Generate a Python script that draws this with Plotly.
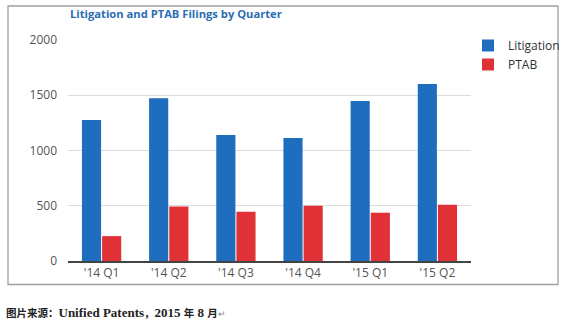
import plotly.graph_objects as go

categories = ["'14 Q1", "'14 Q2", "'14 Q3", "'14 Q4", "'15 Q1", "'15 Q2"]
litigation = [1275, 1472, 1140, 1113, 1449, 1602]
ptab = [225, 494, 446, 500, 437, 509]

W, H = 569, 323
L, R, T, B = 68, 471, 40, 261
pw, ph = R - L, B - T

def px(x):
    return (x - L) / pw

def py(y):
    return (B - y) / ph

fig = go.Figure()
fig.add_trace(go.Bar(name="Litigation", x=categories, y=litigation, marker_color="#1f6dbf", marker_line_width=0))
fig.add_trace(go.Bar(name="PTAB", x=categories, y=ptab, marker_color="#e03236", marker_line_width=0))

fig.update_layout(
    width=W, height=H,
    margin=dict(l=L, r=W - R, t=T, b=H - B, autoexpand=False),
    paper_bgcolor="white", plot_bgcolor="white",
    barmode="group", bargap=0.4, bargroupgap=0.05,
    font=dict(family="Open Sans", size=12, color="#444"),
    showlegend=True,
    legend=dict(x=px(468), y=py(31), xanchor="left", yanchor="top",
                font=dict(size=12, color="#333", family="Open Sans"),
                itemwidth=30, tracegroupgap=0, bgcolor="rgba(0,0,0,0)"),
    yaxis=dict(range=[0, 2000], dtick=500, showgrid=True, gridcolor="#dcdcdc", gridwidth=1.3,
               zeroline=False, ticks="", ticklabelstandoff=10,
               tickfont=dict(size=12, color="#555")),
    xaxis=dict(showline=True, linecolor="#444", linewidth=1.5, ticks="",
               tickfont=dict(size=12, color="#555")),
)

fig.add_annotation(text="<b>Litigation and PTAB Filings by Quarter</b>", xref="paper", yref="paper",
                   x=px(68), y=py(14), xanchor="left", yanchor="middle", showarrow=False,
                   font=dict(family="Open Sans", size=11.2, color="#2b6cb3"))

cap = ("<b><span style='font-size:10.5px'>图片来源：</span>Unified Patents"
       "<span style='font-size:10.5px'>，</span>2015 <span style='font-size:10.5px'>年</span> 8 "
       "<span style='font-size:10.5px'>月</span></b><span style='font-size:9px;color:#888'>↵</span>")
fig.add_annotation(text=cap, xref="paper", yref="paper",
                   x=px(4), y=py(312), xanchor="left", yanchor="middle", showarrow=False,
                   font=dict(family="Liberation Serif, Noto Sans CJK SC", size=13, color="#222"))

fig.add_shape(type="rect", xref="paper", yref="paper",
              x0=px(8), x1=px(558), y0=py(284.5), y1=py(6),
              line=dict(color="#a0a0a0", width=1.3), fillcolor="rgba(0,0,0,0)", layer="below")

fig.write_html("out.html")
